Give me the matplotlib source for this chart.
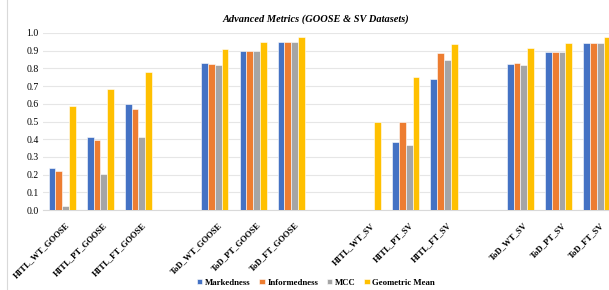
import matplotlib.pyplot as plt
import numpy as np

plt.rcParams['font.family'] = ['Liberation Serif', 'DejaVu Serif']

labels = ['HITL_WT_GOOSE', 'HITL_PT_GOOSE', 'HITL_FT_GOOSE', '',
          'ToD_WT_GOOSE', 'ToD_PT_GOOSE', 'ToD_FT_GOOSE', '',
          'HITL_WT_SV', 'HITL_PT_SV', 'HITL_FT_SV', '',
          'ToD_WT_SV', 'ToD_PT_SV', 'ToD_FT_SV']
markedness = [0.235, 0.415, 0.60, 0, 0.83, 0.90, 0.95, 0,
              0, 0.385, 0.74, 0, 0.825, 0.895, 0.945]
informedness = [0.22, 0.395, 0.57, 0, 0.825, 0.90, 0.95, 0,
                0, 0.50, 0.885, 0, 0.83, 0.895, 0.945]
mcc = [0.025, 0.205, 0.415, 0, 0.82, 0.90, 0.95, 0,
       0, 0.37, 0.845, 0, 0.82, 0.895, 0.945]
gmean = [0.585, 0.685, 0.78, 0, 0.91, 0.95, 0.975, 0,
         0.50, 0.75, 0.94, 0, 0.915, 0.945, 0.975]

series = [('Markedness', markedness, '#4472C4'),
          ('Informedness', informedness, '#ED7D31'),
          ('MCC', mcc, '#A5A5A5'),
          ('Geometric Mean', gmean, '#FFC000')]

fig = plt.figure(figsize=(6.09, 2.90), dpi=100)
ax = fig.add_axes([43 / 609, 80 / 290, 1 - 43 / 609, 177 / 290])

x = np.arange(len(labels))
w = 0.177
for i, (name, vals, col) in enumerate(series):
    ax.bar(x + (i - 1.5) * w, vals, w, color=col, edgecolor='white',
           linewidth=0.4, label=name, zorder=3)

ax.set_xlim(-0.5, 14.32)
ax.set_ylim(0, 1.0)
ax.set_yticks(np.arange(0, 1.01, 0.1))
ax.set_yticklabels(['%.1f' % v for v in np.arange(0, 1.01, 0.1)], fontsize=7)
ax.grid(axis='y', color='#E6E6E6', linewidth=0.8, zorder=0)
ax.set_xticks(x + 0.08)
ax.set_xticklabels(labels, rotation=45, ha='right', rotation_mode='anchor',
                   fontsize=6.2, fontweight='bold')
ax.tick_params(axis='x', length=0, pad=8)
ax.tick_params(axis='y', length=0, pad=3)
for s in ['top', 'right', 'left']:
    ax.spines[s].set_visible(False)
ax.spines['bottom'].set_color('#D9D9D9')

fig.text(0.519, 0.935, 'Advanced Metrics (GOOSE & SV Datasets)', ha='center',
         va='center', fontsize=7.5, fontweight='bold', style='italic')

fig.legend(loc='center', bbox_to_anchor=(0.519, 0.025), ncol=4, frameon=False,
           prop={'size': 6.3, 'weight': 'bold'}, handlelength=0.6,
           handleheight=0.6, handletextpad=0.3, columnspacing=1.0)

fig.add_artist(plt.Line2D([7 / 609, 7 / 609], [0, 1], color='#D9D9D9',
                          linewidth=0.8))

fig.savefig('out.png', dpi=100)
